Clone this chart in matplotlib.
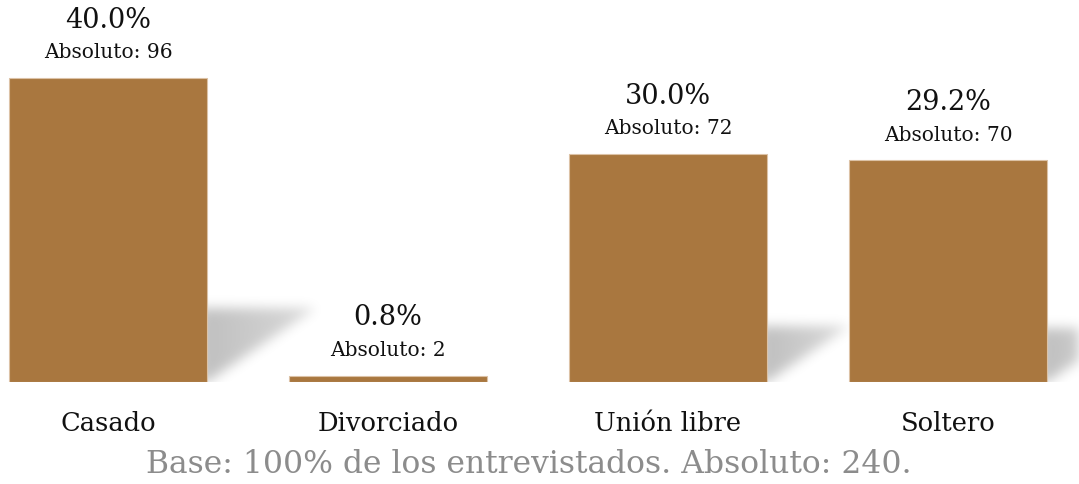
import numpy as np
import matplotlib
matplotlib.use("Agg")
import matplotlib.pyplot as plt

# Data
categorias = ["Casado", "Divorciado", "Unión libre", "Soltero"]
porcentajes = [40.0, 0.8, 30.0, 29.2]
absolutos = [96, 2, 72, 70]
total = 240

bar_color = "#A9773F"
W, H = 1079, 485
dpi = 100

plt.rcParams["font.family"] = "DejaVu Serif"

fig = plt.figure(figsize=(W / dpi, H / dpi), dpi=dpi)
# axes spans from the baseline up to the top of the figure
base_px = 102
ax = fig.add_axes([0, base_px / H, 1, 1 - base_px / H])

unit_px = 280.          # distance between bar centres
pct_px = 7.6            # pixels per percentage point
xmin = -108. / unit_px
xmax = xmin + W / unit_px
ymax = (H - base_px) / pct_px
ax.set_xlim(xmin, xmax)
ax.set_ylim(0, ymax)

x = np.arange(len(categorias))
width = 198. / unit_px

bars = ax.bar(x, porcentajes, width=width, color=bar_color,
              edgecolor="#dcc2a6", linewidth=0.8, zorder=3)

# soft floor shadows to the right of every bar
nx, ny = W, H - base_px
img = np.zeros((ny, nx))
px = np.arange(nx)[None, :] + 0.5
py = np.arange(ny)[:, None] + 0.5
for xi, v in zip(x, porcentajes):
    h = v * pct_px
    xr = (xi + width / 2 - xmin) * unit_px
    sh = 0.245 * h
    sw = 0.36 * h
    if sh < 3:
        continue
    inside = (px >= xr - 8) & (py <= sh) & ((px - xr) <= sw * py / sh)
    fade = np.clip(1 - 0.4 * (px - xr) / sw, 0, 1)
    img = np.maximum(img, inside * fade)

def blur(a, s):
    k = np.arange(-3 * s, 3 * s + 1)
    g = np.exp(-k**2 / (2. * s * s))
    g /= g.sum()
    a = np.apply_along_axis(lambda r: np.convolve(r, g, mode="same"), 1, a)
    a = np.apply_along_axis(lambda c: np.convolve(c, g, mode="same"), 0, a)
    return a

img = blur(img, 6)
rgba = np.zeros((ny, nx, 4))
rgba[..., :3] = 0.0
rgba[..., 3] = np.clip(img * 0.25, 0, 1)
ax.imshow(rgba, extent=(xmin, xmax, 0, ymax), origin="lower",
          aspect="auto", zorder=1, interpolation="bilinear")

for b, p, a in zip(bars, porcentajes, absolutos):
    cx = b.get_x() + b.get_width() / 2
    top = b.get_height()
    ax.annotate(f"{p:.1f}%", xy=(cx, top), xytext=(0, 59),
                textcoords="offset pixels", ha="center", va="center",
                fontsize=19.5, color="#111111")
    ax.annotate(f"Absoluto: {a}", xy=(cx, top), xytext=(0, 26),
                textcoords="offset pixels", ha="center", va="center",
                fontsize=14.5, color="#111111")

ax.set_xticks(x)
ax.set_xticklabels(categorias, fontsize=18.5, color="#111111")
ax.tick_params(axis="x", length=0, pad=20)
ax.set_yticks([])
for s in ax.spines.values():
    s.set_visible(False)
ax.patch.set_alpha(0)

fig.text(529 / W, 1 - 465 / H,
         f"Base: 100% de los entrevistados. Absoluto: {total}.",
         ha="center", va="center", fontsize=22.6, color="#8c8c8c")

fig.savefig("out.png", dpi=dpi)
